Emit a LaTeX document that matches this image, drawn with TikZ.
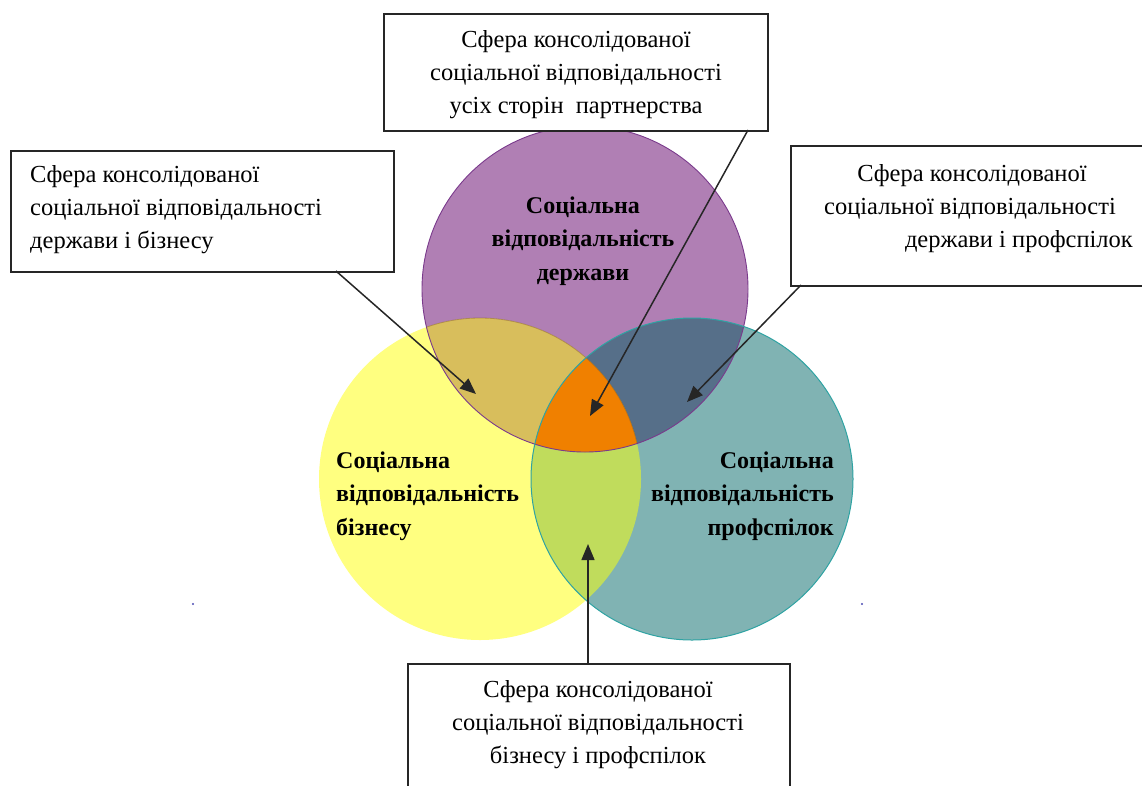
\documentclass[tikz,border=0pt]{standalone}
\usepackage{fontspec}
\setmainfont{Liberation Serif}
\usetikzlibrary{arrows.meta}
\definecolor{cPurple}{HTML}{B07FB4}
\definecolor{cPurpleLine}{HTML}{7A3A8C}
\definecolor{cYellow}{HTML}{FFFF80}
\definecolor{cTeal}{HTML}{80B3B3}
\definecolor{cTealLine}{HTML}{2FA3A3}
\definecolor{cPY}{HTML}{D8BE5C}
\definecolor{cPT}{HTML}{566F89}
\definecolor{cCenter}{HTML}{F08000}
\definecolor{cYT}{HTML}{C0DC5C}
\tikzset{
  callout/.style={draw=black!85, line width=1.5pt, fill=white, inner sep=0pt},
  boxtext/.style={font=\fontsize{24.5}{33}\selectfont, inner sep=0pt},
  circtext/.style={font=\bfseries\fontsize{24}{33.5}\selectfont, inner sep=0pt},
  pointer/.style={draw=black!85, line width=1.5pt, -{Triangle[length=16pt,width=13pt]}},
}
\begin{document}
\begin{tikzpicture}[x=1pt,y=-1pt]
\useasboundingbox (0,0) rectangle (1142,785);
% circles
\def\cP{(585,289) circle (163)}
\def\cY{(480,479) circle (161)}
\def\cT{(692,479) circle (161)}
\fill[cPurple] \cP;
\fill[cYellow] \cY;
\fill[cTeal] \cT;
\begin{scope}\clip \cP; \fill[cPY] \cY; \end{scope}
\begin{scope}\clip \cP; \fill[cPT] \cT; \end{scope}
\begin{scope}\clip \cY; \fill[cYT] \cT; \end{scope}
\begin{scope}\clip \cP; \clip \cY; \fill[cCenter] \cT; \end{scope}
\draw[cPurpleLine, line width=0.9pt] \cP;
\begin{scope}\clip \cP; \draw[brown!70!black, opacity=0.5, line width=0.8pt] \cY; \end{scope}
\draw[cTealLine, line width=1pt] \cT;
% circle labels
\node[circtext, align=center] (lP) at (583,241) {Соціальна\\відповідальність\\держави};
\node[circtext, align=left, anchor=west] (lY) at (336,496) {Соціальна\\відповідальність\\бізнесу};
\node[circtext, align=right, anchor=east] (lT) at (834,496) {Соціальна\\відповідальність\\профспілок};
% callout boxes
\node[callout, minimum width=384pt, minimum height=117pt, anchor=north west] (bTop) at (383,13) {};
\node[boxtext, align=center] (tTop) at (576,75) {Сфера консолідованої\\соціальної відповідальності\\усіх сторін\ \ партнерства};
\node[callout, minimum width=383pt, minimum height=121pt, anchor=north west] (bLeft) at (10,150) {};
\node[boxtext, align=left, anchor=west] (tLeft) at (30,210) {Сфера консолідованої\\соціальної відповідальності\\держави і бізнесу};
\node[callout, minimum width=360pt, minimum height=140pt, anchor=north west] (bRight) at (790,145) {};
\node[boxtext, anchor=base] (tRight1) at (972,181) {Сфера консолідованої};
\node[boxtext, anchor=base] (tRight2) at (970,214) {соціальної відповідальності};
\node[boxtext, anchor=base east] (tRight3) at (1133,247) {держави і профспілок};
\node[callout, minimum width=382pt, minimum height=140pt, anchor=north west] (bBottom) at (407,663) {};
\node[boxtext, align=center] (tBottom) at (598,725) {Сфера консолідованої\\соціальної відповідальності\\бізнесу і профспілок};
% pointer targets
\coordinate (pC) at (590,416);
\coordinate (pPY) at (476,394);
\coordinate (pPT) at (687,402);
\coordinate (pYT) at (588,544);
\coordinate (sTop) at (748,130);
\coordinate (sLeft) at (336,271);
\coordinate (sRight) at (801,285);
\coordinate (sBottom) at (588,663);
\draw[pointer] (sTop) -- (pC);
\draw[pointer] (sLeft) -- (pPY);
\draw[pointer] (sRight) -- (pPT);
\draw[pointer] (sBottom) -- (pYT);
% stray dots
\fill[blue!40!gray] (193,604) circle (1.2);
\fill[blue!40!gray] (862,604) circle (1.2);
\end{tikzpicture}
\end{document}
